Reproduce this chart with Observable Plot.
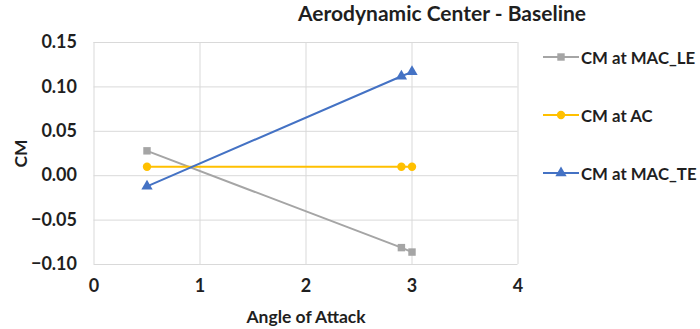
<!DOCTYPE html>
<html>
<head>
<meta charset="utf-8">
<script src="https://cdn.jsdelivr.net/npm/d3@7"></script>
<script src="https://cdn.jsdelivr.net/npm/@observablehq/plot@0.6"></script>
<style>
  html, body { margin: 0; padding: 0; background: #fff; }
  #wrap { position: relative; width: 700px; height: 329px; font-family: Lato, "Open Sans", sans-serif; font-weight: bold; color: #1f1f1f; }
  #title { position: absolute; left: 0; width: 884px; top: 1px; text-align: center; font-size: 21px; line-height: 24px; }
  .leg { position: absolute; left: 543px; height: 20px; display: flex; align-items: center; font-size: 16.8px; white-space: nowrap; }
  .leg svg { margin-right: 2px; }
</style>
</head>
<body>
<div id="wrap">
  <div id="title">Aerodynamic Center - Baseline</div>
</div>
<script>
const titleText = "Aerodynamic Center - Baseline";
const xLabel = "Angle of Attack";
const yLabel = "CM";
const aoa = [0.5, 2.9, 3.0];
const cmLE = [0.028, -0.081, -0.086];
const cmAC = [0.010, 0.010, 0.010];
const cmTE = [-0.012, 0.112, 0.117];
const seriesNames = ["CM at MAC_LE", "CM at AC", "CM at MAC_TE"];
const seriesColors = ["#a5a5a5", "#ffc000", "#4472c4"];
const seriesSymbols = ["square", "circle", "triangle"];
const xTicks = [0, 1, 2, 3, 4];
const yTicks = [-0.10, -0.05, 0.00, 0.05, 0.10, 0.15];

const seriesValues = [cmLE, cmAC, cmTE];
const data = [];
seriesNames.forEach((name, i) => {
  aoa.forEach((a, j) => data.push({series: name, x: a, y: seriesValues[i][j]}));
});

const chart = Plot.plot({
  width: 700,
  height: 329,
  marginLeft: 93.5,
  marginRight: 182.5,
  marginTop: 42,
  marginBottom: 65,
  style: { fontFamily: "Lato, 'Open Sans', sans-serif", fontWeight: "bold", color: "#1f1f1f", background: "transparent" },
  x: { domain: [0, 4] },
  y: { domain: [-0.10, 0.15] },
  color: { domain: seriesNames, range: seriesColors },
  symbol: { domain: seriesNames, range: seriesSymbols },
  marks: [
    Plot.gridX(xTicks, { stroke: "#d9d9d9", strokeOpacity: 1, strokeWidth: 1 }),
    Plot.gridY(yTicks, { stroke: "#d9d9d9", strokeOpacity: 1, strokeWidth: 1 }),
    Plot.axisX({ ticks: xTicks, tickSize: 0, tickPadding: 15, tickFormat: d3.format("d"), fontSize: 18, label: null }),
    Plot.axisY({ ticks: yTicks, tickSize: 0, tickPadding: 17, tickFormat: d3.format(".2f"), fontSize: 18, label: null }),
    Plot.text([xLabel], { frameAnchor: "bottom", dy: 53, lineAnchor: "middle", textAnchor: "middle", fontSize: 17.5, fontWeight: "bold", fill: "#1f1f1f" }),
    Plot.text([yLabel], { frameAnchor: "left", dx: -73, rotate: -90, lineAnchor: "middle", textAnchor: "middle", fontSize: 17.5, fontWeight: "bold", fill: "#1f1f1f" }),
    Plot.line(data, { x: "x", y: "y", z: "series", stroke: "series", strokeWidth: 2 }),
    Plot.dot(data, { x: "x", y: "y", fill: "series", symbol: "series", r: 4.2, stroke: "none" })
  ]
});
document.getElementById("wrap").appendChild(chart);

// legend
const wrap = document.getElementById("wrap");
const legTops = [47, 105, 163];
seriesNames.forEach((name, i) => {
  const div = document.createElement("div");
  div.className = "leg";
  div.style.top = legTops[i] + "px";
  const sym = d3.symbol(seriesSymbols[i] === "square" ? d3.symbolSquare : seriesSymbols[i] === "circle" ? d3.symbolCircle : d3.symbolTriangle, 55)();
  div.innerHTML = `<svg width="36" height="20"><line x1="0" x2="36" y1="10" y2="10" stroke="${seriesColors[i]}" stroke-width="2"/><path transform="translate(18,10)" d="${sym}" fill="${seriesColors[i]}"/></svg><span>${name}</span>`;
  wrap.appendChild(div);
});
</script>
</body>
</html>
